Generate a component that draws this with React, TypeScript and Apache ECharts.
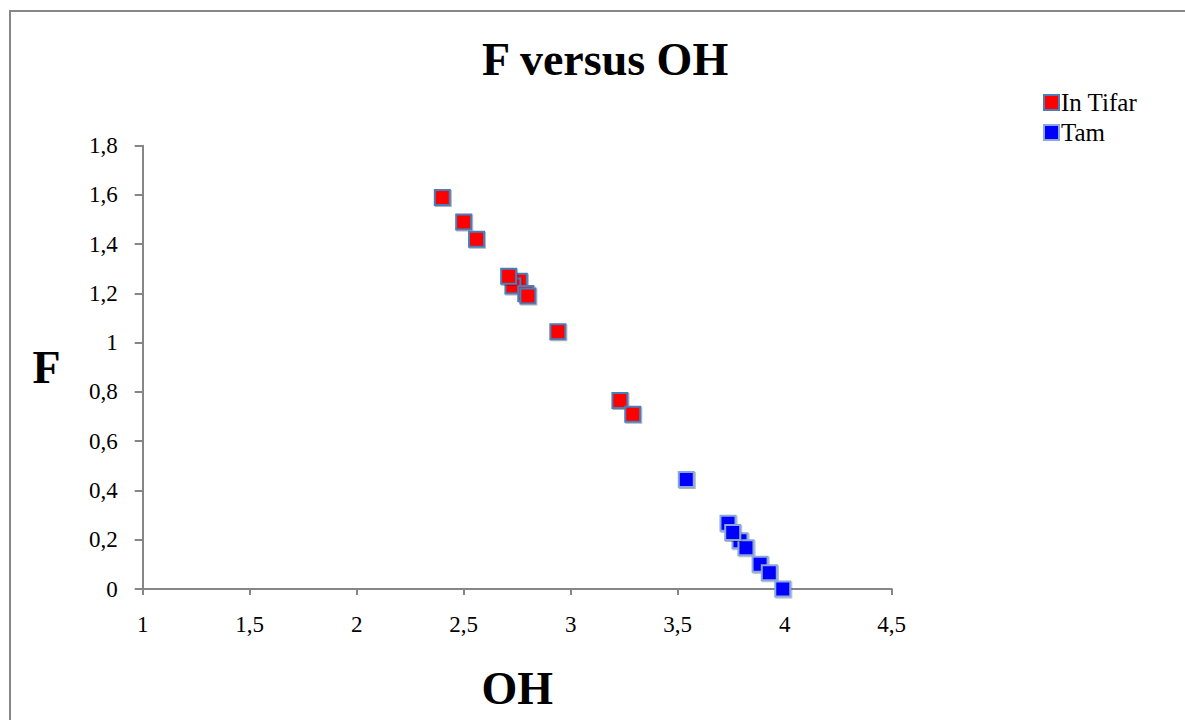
import React, { useEffect, useRef } from "react";
import * as echarts from "echarts";

const tifarOH = [2.4, 2.5, 2.56, 2.76, 2.73, 2.71, 2.79, 2.8, 2.94, 3.23, 3.29];
const tifarF = [1.59, 1.49, 1.42, 1.25, 1.23, 1.27, 1.2, 1.19, 1.045, 0.765, 0.71];
const tamOH = [3.54, 3.735, 3.791, 3.819, 3.757, 3.885, 3.928, 3.991];
const tamF = [0.445, 0.267, 0.196, 0.168, 0.229, 0.1, 0.066, 0.0];
const seriesNames = ["In Tifar", "Tam"];
const xTicks = ["1", "1,5", "2", "2,5", "3", "3,5", "4", "4,5"];

const FONT = "'Liberation Serif', 'Times New Roman', serif";

export default function App() {
  const ref = useRef<HTMLDivElement>(null);
  useEffect(() => {
    if (!ref.current) return;
    const chart = echarts.init(ref.current, undefined, { renderer: "svg" });
    const fmt = (v: number) => String(Math.round(v * 10) / 10).replace(".", ",");
    chart.setOption({
      animation: false,
      backgroundColor: "#ffffff",
      title: {
        text: "F versus OH",
        left: 477,
        top: 31,
        textStyle: { fontFamily: FONT, fontSize: 46, fontWeight: "bold", color: "#000" },
      },
      legend: {
        orient: "vertical",
        left: 1043,
        top: 90,
        padding: 0,
        itemWidth: 15,
        itemHeight: 15,
        itemGap: 5,
        icon: "rect",
        textStyle: { fontFamily: FONT, fontSize: 25, color: "#000", padding: [0, 0, 0, -3] },
        data: seriesNames,
      },
      graphic: [
        {
          type: "rect",
          shape: { x: 10, y: 11, width: 1300, height: 900 },
          style: { fill: "none", stroke: "#878787", lineWidth: 2 },
          silent: true,
        },
      ],
      grid: { left: 142.7, top: 145.7, width: 749, height: 443.3 },
      xAxis: {
        type: "value",
        min: 1,
        max: 4.5,
        interval: 0.5,
        name: "OH",
        nameLocation: "middle",
        nameGap: 76,
        nameTextStyle: { fontFamily: FONT, fontSize: 46, fontWeight: "bold", color: "#000" },
        axisLine: { show: true, lineStyle: { color: "#868686", width: 2 } },
        axisTick: { show: true, length: 6, lineStyle: { color: "#868686", width: 2 } },
        splitLine: { show: false },
        axisLabel: {
          margin: 24,
          fontFamily: FONT,
          fontSize: 23,
          color: "#000",
          formatter: (v: number) => xTicks[Math.round((v - 1) / 0.5)] ?? fmt(v),
          showMaxLabel: true,
          showMinLabel: true,
        },
      },
      yAxis: {
        type: "value",
        min: 0,
        max: 1.8,
        interval: 0.2,
        name: "F",
        nameLocation: "middle",
        nameRotate: 0,
        nameGap: 82,
        nameTextStyle: { fontFamily: FONT, fontSize: 46, fontWeight: "bold", color: "#000" },
        axisLine: { show: true, lineStyle: { color: "#868686", width: 2 } },
        axisTick: { show: true, length: 8, lineStyle: { color: "#868686", width: 2 } },
        splitLine: { show: false },
        axisLabel: {
          margin: 25,
          fontFamily: FONT,
          fontSize: 23,
          color: "#000",
          formatter: (v: number) => fmt(v),
        },
      },
      series: [
        {
          name: seriesNames[0],
          type: "scatter",
          symbol: "rect",
          symbolSize: 15,
          itemStyle: {
            color: "#ff0000",
            opacity: 1,
            borderColor: "#4a7ebb",
            borderWidth: 2,
            shadowColor: "rgba(0,0,0,0.3)",
            shadowBlur: 1,
            shadowOffsetX: 1,
            shadowOffsetY: 1,
          },
          data: tifarOH.map((x, i) => [x, tifarF[i]]),
        },
        {
          name: seriesNames[1],
          type: "scatter",
          symbol: "rect",
          symbolSize: 15,
          itemStyle: {
            color: "#0000ff",
            opacity: 1,
            borderColor: "#8aa8dc",
            borderWidth: 2,
            shadowColor: "rgba(0,0,0,0.3)",
            shadowBlur: 1,
            shadowOffsetX: 1,
            shadowOffsetY: 1,
          },
          data: tamOH.map((x, i) => [x, tamF[i]]),
        },
      ],
    });
    return () => chart.dispose();
  }, []);
  return (
    <div
      ref={ref}
      style={{ position: "fixed", left: 0, top: 0, width: 1185, height: 720, background: "#fff" }}
    />
  );
}
